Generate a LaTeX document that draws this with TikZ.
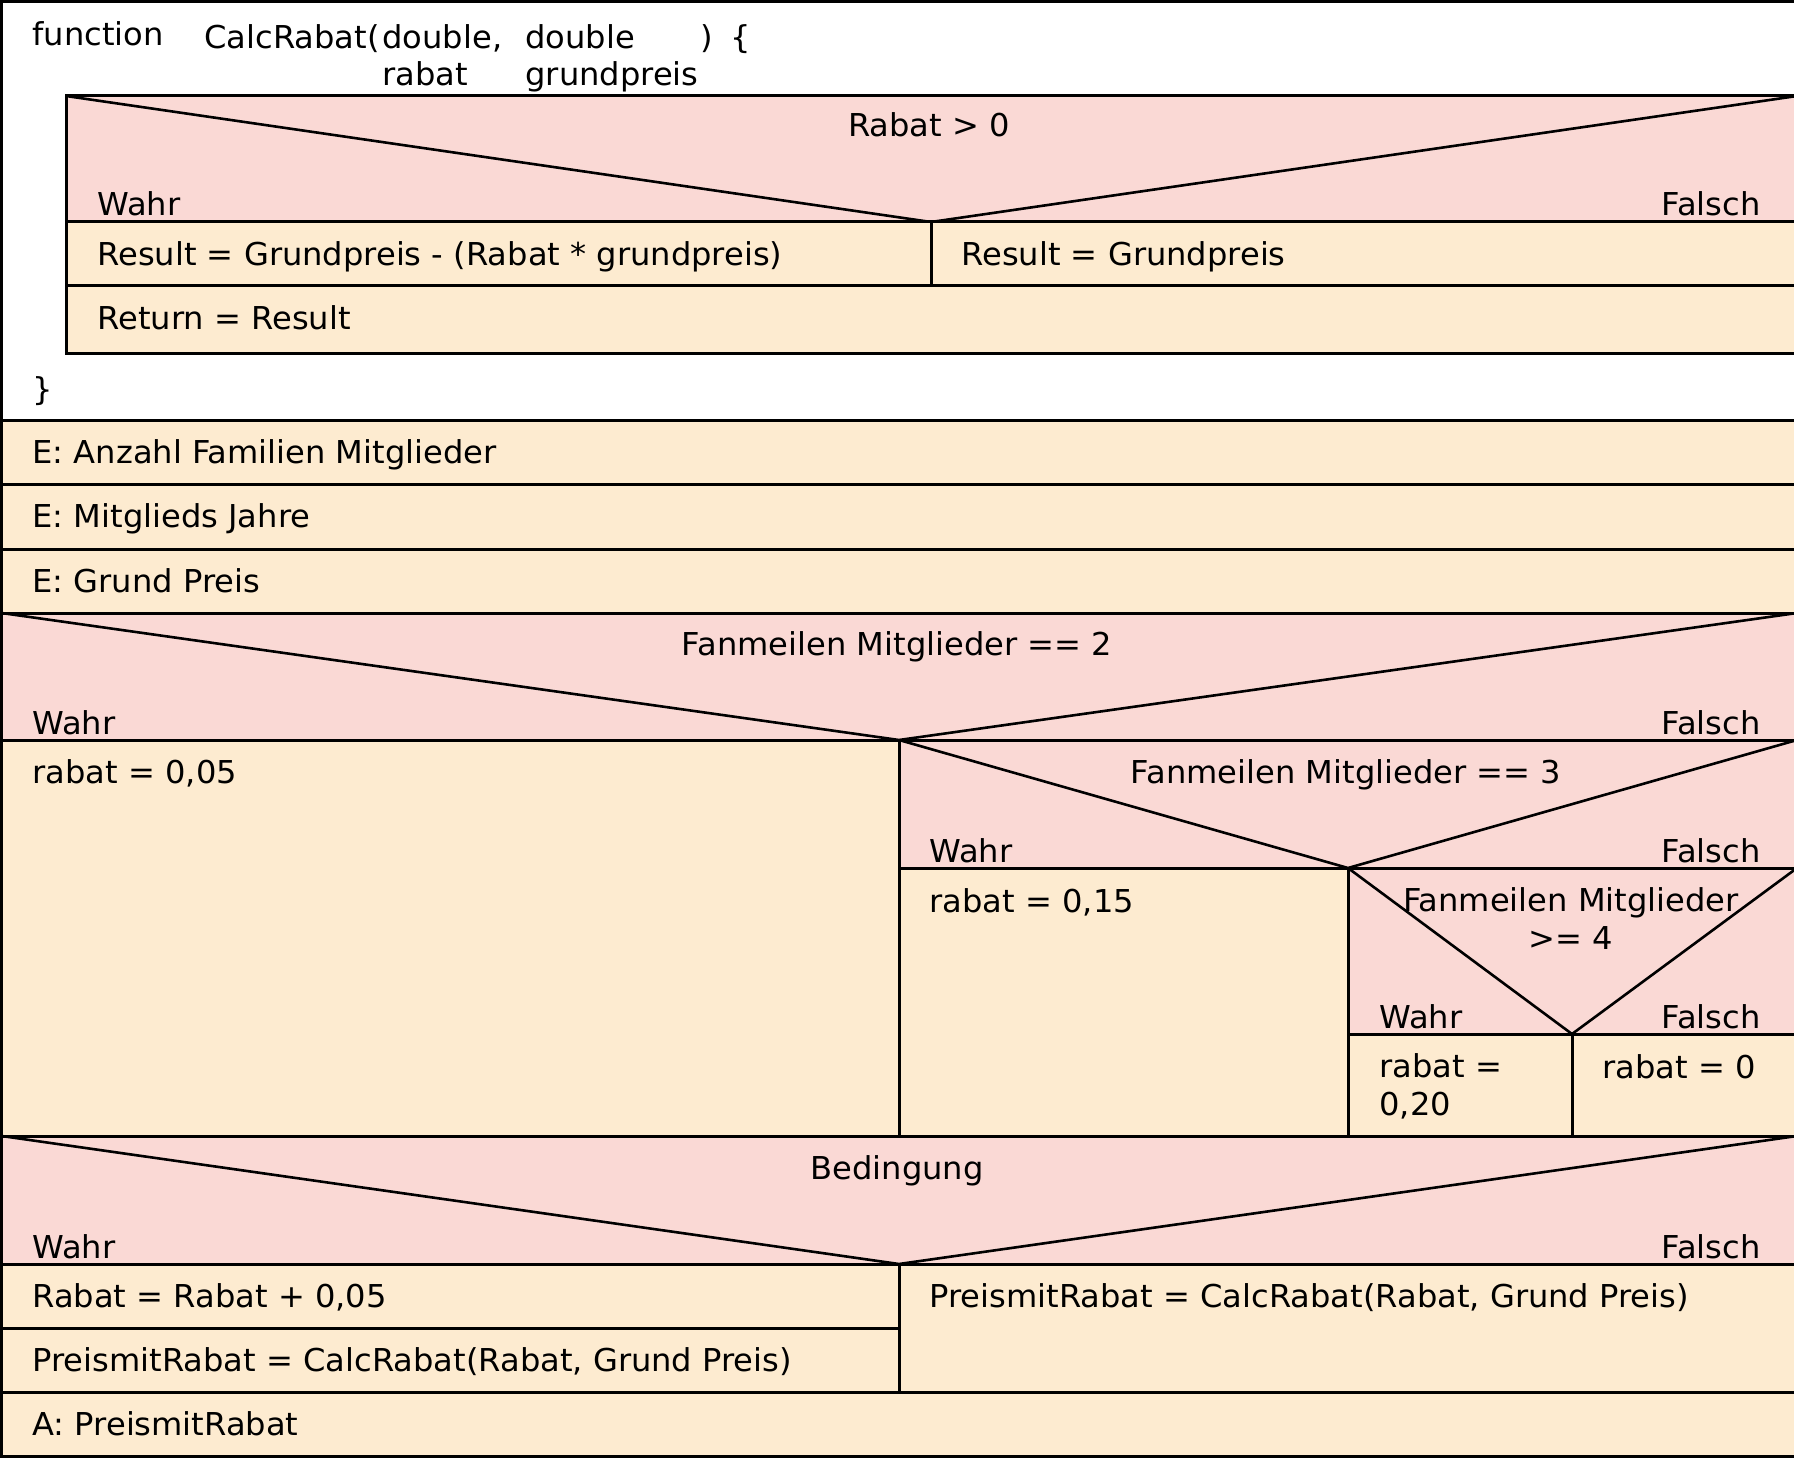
\documentclass[tikz,border=0pt]{standalone}
\usepackage{fontspec}
\setmainfont{DejaVu Sans}[FakeStretch=1.02]
\definecolor{headfill}{HTML}{FAD9D5}
\definecolor{stepfill}{HTML}{FDEBD0}
\begin{document}
\begin{tikzpicture}[x=0.5pt,y=-0.5pt,line width=1.5pt,line join=miter,
  lbl/.style={inner sep=0pt,font=\fontsize{15.75}{18.75}\selectfont},
  ltxt/.style={lbl,anchor=base west,align=left},
  ctxt/.style={lbl,anchor=base,align=center},
  rtxt/.style={lbl,anchor=base east},
  headbox/.style={fill=headfill,draw=black},
  stepbox/.style={fill=stepfill,draw=black},
  diag/.style={draw=black,line width=1.3pt}]
\useasboundingbox (0,0) rectangle (1794,1460);
\clip (0,0) rectangle (1794,1460);
\fill[white] (0,0) rectangle (1794,1460);

% function block
\draw[fill=white] (1.5,1.5) rectangle (1797,421);
\node[ltxt] (fkw) at (31,46) {function};
\node[ltxt] (fname) at (203,49) {CalcRabat(};
\node[ltxt] (ftype1) at (381,49) {double,};
\node[ltxt] (fpar1) at (381,86) {rabat};
\node[ltxt] (ftype2) at (524,49) {double};
\node[ltxt] (fpar2) at (524,86) {grundpreis};
\node[ltxt] (fopen) at (699,49) {)\hspace{0.55em}\{};

% body of the function
\draw[headbox] (66,96) rectangle (1797,222);
\draw[diag] (66,96) -- (931,222) -- (1797,96);
\node[ctxt] (c0) at (929,137) {Rabat > 0};
\node[ltxt] (c0t) at (96,216) {Wahr};
\node[rtxt] (c0f) at (1762,216) {Falsch};
\draw[stepbox] (66,222) rectangle (931,286);
\draw[stepbox] (931,222) rectangle (1797,286);
\draw[stepbox] (66,286) rectangle (1797,354);
\node[ltxt] (r1) at (96,266) {Result = Grundpreis - (Rabat * grundpreis)};
\node[ltxt] (r2) at (960,266) {Result = Grundpreis};
\node[ltxt] (r3) at (96,330) {Return = Result};
\node[ltxt] (fclose) at (31,401) {\}};

% inputs
\draw[stepbox] (1.5,421) rectangle (1797,485);
\draw[stepbox] (1.5,485) rectangle (1797,549);
\draw[stepbox] (1.5,549) rectangle (1797,613);
\node[ltxt] (e1) at (31,464) {E: Anzahl Familien Mitglieder};
\node[ltxt] (e2) at (31,528) {E: Mitglieds Jahre};
\node[ltxt] (e3) at (31,592) {E: Grund Preis};

% first decision
\draw[headbox] (1.5,613) rectangle (1797,740);
\draw[diag] (1.5,613) -- (899,740) -- (1797,613);
\node[ctxt] (d1) at (897,655) {Fanmeilen Mitglieder == 2};
\node[ltxt] (d1t) at (31,734) {Wahr};
\node[rtxt] (d1f) at (1762,734) {Falsch};
\draw[stepbox] (1.5,740) rectangle (899,1136);
\node[ltxt] (a1) at (31,783) {rabat = 0,05};

% second decision
\draw[headbox] (899,740) rectangle (1797,868);
\draw[diag] (899,740) -- (1348,868) -- (1797,740);
\node[ctxt] (d2) at (1346,783) {Fanmeilen Mitglieder == 3};
\node[ltxt] (d2t) at (928,862) {Wahr};
\node[rtxt] (d2f) at (1762,862) {Falsch};
\draw[stepbox] (899,868) rectangle (1348,1136);
\node[ltxt] (a2) at (928,912) {rabat = 0,15};

% third decision
\draw[headbox] (1348,868) rectangle (1797,1034);
\draw[diag] (1348,868) -- (1572,1034) -- (1797,868);
\node[ctxt] (d3) at (1571,949) {Fanmeilen Mitglieder\\>= 4};
\node[ltxt] (d3t) at (1378,1028) {Wahr};
\node[rtxt] (d3f) at (1762,1028) {Falsch};
\draw[stepbox] (1348,1034) rectangle (1572,1136);
\draw[stepbox] (1572,1034) rectangle (1797,1136);
\node[ltxt] (a3) at (1378,1115) {rabat =\\0,20};
\node[ltxt] (a4) at (1601,1078) {rabat = 0};

% condition on the discount
\draw[headbox] (1.5,1136) rectangle (1797,1264);
\draw[diag] (1.5,1136) -- (899,1264) -- (1797,1136);
\node[ctxt] (d4) at (897,1179) {Bedingung};
\node[ltxt] (d4t) at (31,1258) {Wahr};
\node[rtxt] (d4f) at (1762,1258) {Falsch};
\draw[stepbox] (1.5,1264) rectangle (899,1328);
\draw[stepbox] (1.5,1328) rectangle (899,1392);
\draw[stepbox] (899,1264) rectangle (1797,1392);
\node[ltxt] (b1) at (31,1307) {Rabat = Rabat + 0,05};
\node[ltxt] (b2) at (31,1371) {PreismitRabat = CalcRabat(Rabat, Grund Preis)};
\node[ltxt] (b3) at (928,1307) {PreismitRabat = CalcRabat(Rabat, Grund Preis)};

% output
\draw[stepbox] (1.5,1392) rectangle (1797,1456);
\node[ltxt] (out) at (31,1435) {A: PreismitRabat};
\end{tikzpicture}
\end{document}
